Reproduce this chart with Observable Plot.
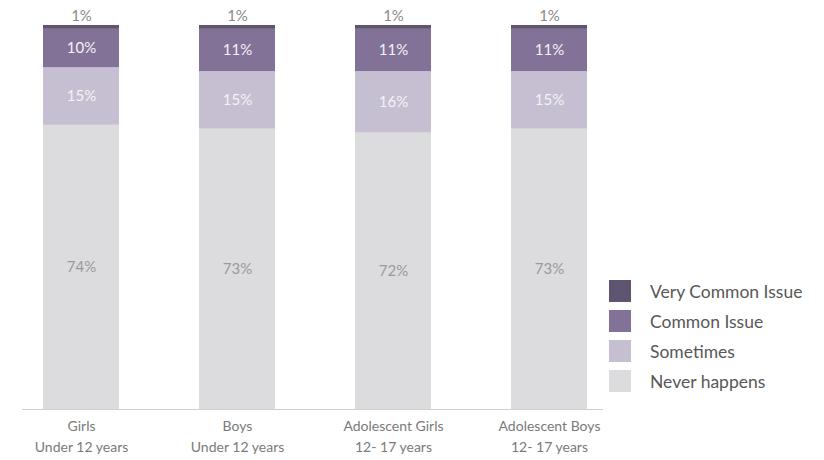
<!DOCTYPE html>
<html>
<head>
<meta charset="utf-8">
<script src="https://cdn.jsdelivr.net/npm/d3@7"></script>
<script src="https://cdn.jsdelivr.net/npm/@observablehq/plot@0.6"></script>
<style>
  html, body { margin: 0; padding: 0; background: #fff; }
  #wrap { position: relative; width: 824px; height: 460px; font-family: Lato, "Open Sans", sans-serif; }
  #legend { position: absolute; left: 609px; top: 276px; }
  .row { display: flex; align-items: center; height: 30px; }
  .sw { width: 22px; height: 22px; margin-right: 19px; }
  .lab { font-size: 17.5px; color: #585858; font-weight: 400; }
</style>
</head>
<body>
<div id="wrap"></div>
<script>
const categories = ["Girls\nUnder 12 years", "Boys\nUnder 12 years", "Adolescent Girls\n12- 17 years", "Adolescent Boys\n12- 17 years"];
const levels = ["Never happens", "Sometimes", "Common Issue", "Very Common Issue"];
const neverHappens = [74, 73, 72, 73];
const sometimes = [15, 15, 16, 15];
const commonIssue = [10, 11, 11, 11];
const veryCommonIssue = [1, 1, 1, 1];
const colors = ["#dcdcde", "#c6bfd1", "#827298", "#605570"];

const series = [neverHappens, sometimes, commonIssue, veryCommonIssue];
const data = [];
categories.forEach((c, i) => levels.forEach((l, j) => data.push({category: c, level: l, value: series[j][i]})));

const VERY = "Very Common Issue";
const chart = Plot.plot({
  width: 824,
  height: 460,
  marginLeft: 3,
  marginRight: 197,
  marginTop: 25,
  marginBottom: 51,
  style: {fontFamily: "Lato, 'Open Sans', sans-serif", background: "#fff"},
  x: {domain: categories, paddingInner: 0.513, paddingOuter: 0.256, label: null, tickSize: 0},
  y: {domain: [0, 100], axis: null},
  color: {domain: levels, range: colors},
  marks: [
    Plot.barY(data, Plot.stackY({x: "category", y: "value", fill: "level", order: levels})),
    Plot.ruleY([0], {stroke: "#cfcfcf", strokeWidth: 1, insetLeft: 19, insetRight: 24}),
    Plot.text(data, Plot.stackY({
      x: "category", y: "value", z: "level", order: levels,
      text: d => d.level === VERY ? null : d.value + "%",
      fill: d => d.level === "Never happens" ? "#9a9a9a" : "#f4f2f6",
      fontSize: 15
    })),
    Plot.text(data, Plot.stackY2({
      x: "category", y: "value", z: "level", order: levels,
      text: d => d.level === VERY ? d.value + "%" : null,
      fill: "#8a8a8a", fontSize: 15, dy: -9
    })),
    Plot.axisX({tickSize: 0, tickPadding: 7, fontSize: 14, color: "#7a7a7a", label: null, lineHeight: 1.5})
  ]
});

const wrap = document.getElementById("wrap");
wrap.appendChild(chart);
const legend = document.createElement("div");
legend.id = "legend";
levels.slice().reverse().forEach(l => {
  const row = document.createElement("div");
  row.className = "row";
  const sw = document.createElement("div");
  sw.className = "sw";
  sw.style.background = colors[levels.indexOf(l)];
  const lab = document.createElement("span");
  lab.className = "lab";
  lab.textContent = l;
  row.appendChild(sw);
  row.appendChild(lab);
  legend.appendChild(row);
});
wrap.appendChild(legend);
</script>
</body>
</html>
